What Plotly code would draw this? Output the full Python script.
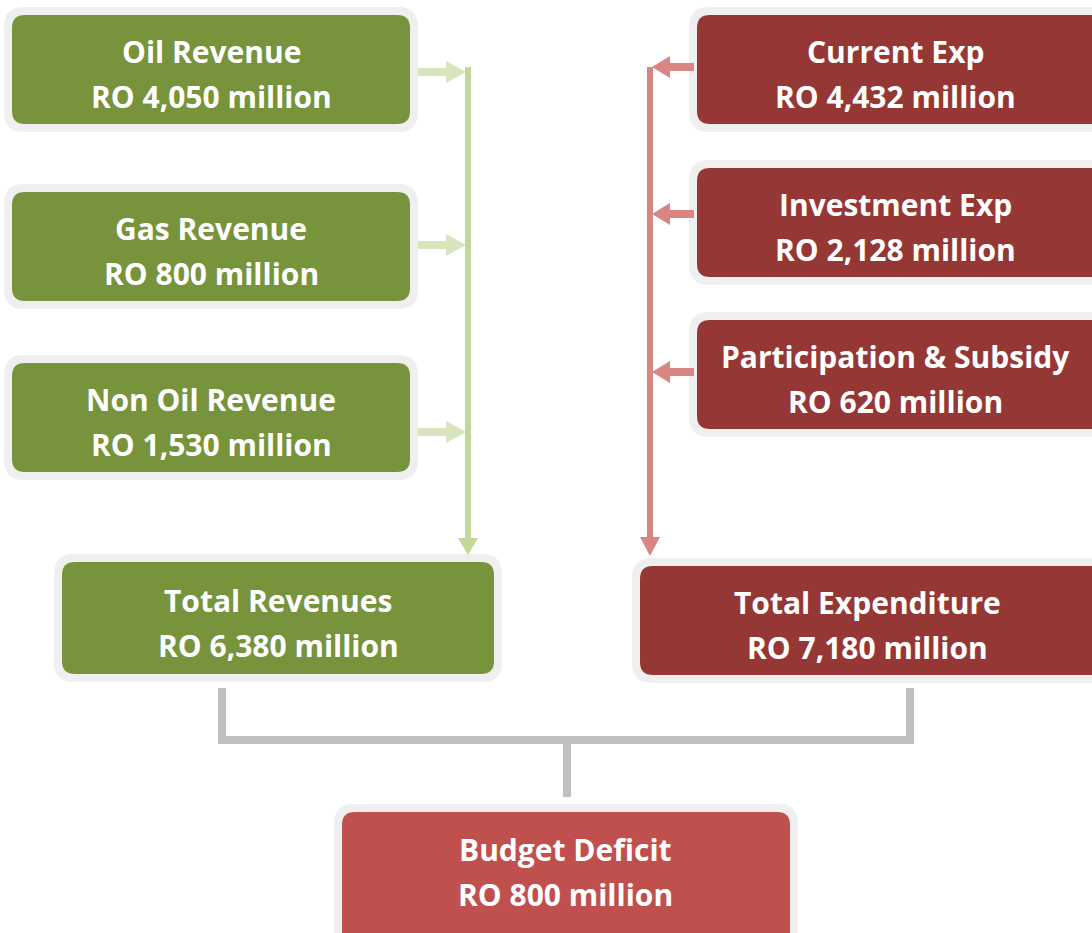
import plotly.graph_objects as go

# ---- data ----
revenue_names = ["Oil Revenue", "Gas Revenue", "Non Oil Revenue"]
revenue_values = [4050, 800, 1530]
expense_names = ["Current Exp", "Investment Exp", "Participation & Subsidy"]
expense_values = [4432, 2128, 620]
total_names = ["Total Revenues", "Total Expenditure", "Budget Deficit"]
total_values = [6380, 7180, 800]

W, H = 1092, 933
GREEN = "#77933C"
DARKRED = "#953735"
RED = "#C0504D"
RING = "#EFEFEF"
LGREEN_H = "#D7E4BD"
LGREEN_V = "#C4D79B"
LRED = "#D98584"
GREY = "#BFBFBF"
FONT = "Open Sans"
FSIZE = 30

def rrect(x0, y0, x1, y1, r):
    return (f"M {x0+r},{y0} L {x1-r},{y0} Q {x1},{y0} {x1},{y0+r} "
            f"L {x1},{y1-r} Q {x1},{y1} {x1-r},{y1} L {x0+r},{y1} "
            f"Q {x0},{y1} {x0},{y1-r} L {x0},{y0+r} Q {x0},{y0} {x0+r},{y0} Z")

shapes = []
annotations = []

def box(x0, y0, x1, y1, color, title, value, cx=None, ty=None):
    shapes.append(dict(type="path", path=rrect(x0-8, y0-8, x1+8, y1+8, 20),
                       fillcolor=RING, line=dict(width=0), layer="below"))
    shapes.append(dict(type="path", path=rrect(x0, y0, x1, y1, 13),
                       fillcolor=color, line=dict(width=0), layer="below"))
    if cx is None:
        cx = (x0 + x1) / 2
    if ty is None:
        ty = (y0 + y1) / 2 - 18
    for txt, yy in ((title, ty), (f"RO {value:,} million", ty + 45)):
        annotations.append(dict(x=cx, y=yy, xref="x", yref="y", text=f"<b>{txt}</b>",
                                showarrow=False, xanchor="center", yanchor="middle",
                                font=dict(family=FONT, size=FSIZE, color="white")))

def tri(pts, color):
    p = "M " + " L ".join(f"{a},{b}" for a, b in pts) + " Z"
    shapes.append(dict(type="path", path=p, fillcolor=color, line=dict(width=0)))

def seg(pts, color, w):
    p = "M " + " L ".join(f"{a},{b}" for a, b in pts)
    shapes.append(dict(type="path", path=p, line=dict(color=color, width=w)))

# left column
left_y = [(15, 124), (192, 301), (363, 472)]
left_arrow_y = [72, 245, 432]
for (y0, y1), n, v in zip(left_y, revenue_names, revenue_values):
    box(12, y0, 410, y1, GREEN, n, v, cx=211)
for ay in left_arrow_y:
    seg([(418, ay), (448, ay)], LGREEN_H, 8)
    tri([(446, ay - 11), (466, ay), (446, ay + 11)], LGREEN_H)
seg([(468, 67), (468, 540)], LGREEN_V, 6)
tri([(458, 538), (478, 538), (468, 555)], LGREEN_V)

# right column
right_y = [(15, 124), (168, 277), (320, 429)]
right_arrow_y = [67, 214, 372]
for (y0, y1), n, v in zip(right_y, expense_names, expense_values):
    box(697, y0, 1110, y1, DARKRED, n, v, cx=895)
for ay in right_arrow_y:
    seg([(694, ay), (668, ay)], LRED, 8)
    tri([(670, ay - 11), (652, ay), (670, ay + 11)], LRED)
seg([(650, 67), (650, 540)], LRED, 6)
tri([(640, 537), (660, 537), (650, 556)], LRED)

# totals
box(62, 562, 494, 674, GREEN, total_names[0], total_values[0], cx=278)
box(640, 566, 1110, 675, DARKRED, total_names[1], total_values[1], cx=867)
box(342, 812, 790, 950, RED, total_names[2], total_values[2], cx=565, ty=849)

# grey connector
seg([(222, 688), (222, 740), (910, 740), (910, 688)], GREY, 8)
seg([(567, 740), (567, 797)], GREY, 8)

fig = go.Figure()
fig.update_layout(
    width=W, height=H, margin=dict(l=0, r=0, t=0, b=0),
    paper_bgcolor="white", plot_bgcolor="white",
    xaxis=dict(range=[0, W], visible=False, fixedrange=True),
    yaxis=dict(range=[H, 0], visible=False, fixedrange=True),
    shapes=shapes, annotations=annotations, showlegend=False,
)
fig.write_html("out.html", config={"displayModeBar": False},
               post_script="document.body.style.margin='0';document.body.style.overflow='hidden';")
